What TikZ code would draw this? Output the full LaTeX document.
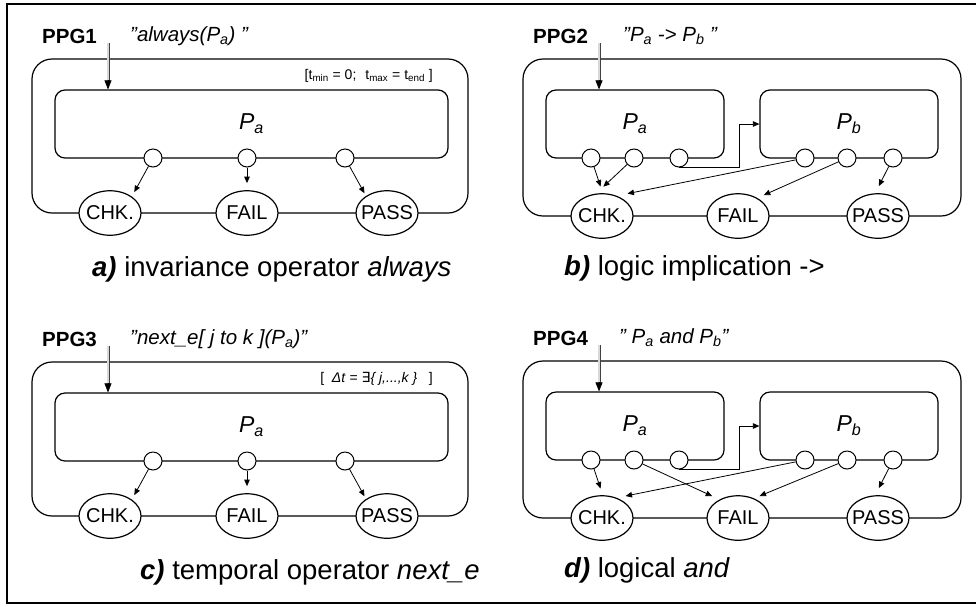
\documentclass[tikz,border=0pt]{standalone}
\usepackage{fontspec}
\setmainfont{Liberation Sans}
\newfontfamily\dejavu{DejaVu Sans}
\usetikzlibrary{arrows.meta,shapes.geometric}
\newcommand\PP[1]{\textit{P}\textsubscript{\textit{#1}}}
\newcommand\stxt[1]{\makebox[0pt]{#1}}
\tikzset{
  outerbox/.style={draw, line width=1.2pt, rounded corners=20pt, inner sep=0},
  innerbox/.style={draw, line width=1.2pt, rounded corners=10pt, inner sep=0, font=\fontsize{23}{27}\selectfont},
  port/.style={draw, circle, line width=1pt, fill=white, minimum size=18pt, inner sep=0},
  state/.style={draw, ellipse, line width=1.2pt, fill=white, minimum width=62pt, minimum height=44.5pt, inner sep=0, font=\fontsize{20}{24}\selectfont},
  arr/.style={-{Triangle[length=6.5pt,width=5.5pt]}, line width=0.8pt},
  shaftout/.style={line width=3pt, black!75},
  shaftin/.style={line width=1.2pt, black!15},
  arrhead/.style={-{Triangle[length=9pt,width=7pt]}, line width=0.6pt},
  ppg/.style={font=\fontsize{20.5}{24}\selectfont\bfseries, inner sep=0, anchor=base west},
  quote/.style={font=\fontsize{20.5}{24}\selectfont\itshape, inner sep=0, anchor=base west},
  small/.style={font=\fontsize{14}{17}\selectfont, inner sep=0, anchor=base east},
  caption/.style={font=\fontsize{27.5}{32}\selectfont, inner sep=0, anchor=base west},
}
% single panel: #1 prefix, #2 y shift, #3 PPG, #4 quote, #5 range label, #6 caption, #7 caption x
\newcommand\singlepanel[7]{%
\begin{scope}[shift={(0,#2)}]
  \node[outerbox, minimum width=436pt, minimum height=154pt] (#1outer) at (250,136) {};
  \node[innerbox, minimum width=393pt, minimum height=68pt] (#1box) at (251.5,124) {\PP{a}};
  \node[port] (#1p1) at (153,158) {};
  \node[port] (#1p2) at (247,158) {};
  \node[port] (#1p3) at (345,158) {};
  \node[state] (#1chk) at (110,213) {\stxt{CHK.}};
  \node[state] (#1fail) at (247,213) {\stxt{FAIL}};
  \node[state] (#1pass) at (387,213) {\stxt{PASS}};
  \draw[arr, shorten >=5pt] (#1p1) -- (#1chk.37);
  \draw[arr, shorten >=7pt] (#1p2) -- (#1fail.north);
  \draw[arr, shorten >=3pt] (#1p3) -- (#1pass.141);
  \node[ppg] (#1ppg) at (42,43) {#3};
  \node[quote] (#1quote) at (130,41) {#4};
  \node[small] (#1range) at (433,79) {#5};
  \coordinate (#1in) at (108,43);
  \coordinate (#1tip) at (#1in |- #1box.north);
  \draw[shaftout, shorten >=8pt] (#1in) -- (#1tip);
  \draw[shaftin, shorten >=8pt] (#1in) -- (#1tip);
  \draw[arrhead] ([yshift=9pt]#1tip) -- (#1tip);
  \node[caption] (#1cap) at (#7,276) {#6};
\end{scope}}
% double panel: #1 prefix, #2 y shift, #3 PPG, #4 quote, #5 quote x, #6 caption, #7 arrows
\newcommand\doublepanel[7]{%
\begin{scope}[shift={(0,#2)}]
  \node[outerbox, minimum width=438pt, minimum height=157pt] (#1outer) at (742,137.5) {};
  \node[innerbox, minimum width=178pt, minimum height=68pt] (#1boxa) at (635,124) {\PP{a}};
  \node[innerbox, minimum width=178pt, minimum height=68pt] (#1boxb) at (849,124) {\PP{b}};
  \node[port] (#1a1) at (591,158) {};
  \node[port] (#1a2) at (634,158) {};
  \node[port] (#1a3) at (679,158) {};
  \node[port] (#1b1) at (805,158) {};
  \node[port] (#1b2) at (847,158) {};
  \node[port] (#1b3) at (893,158) {};
  \node[state] (#1chk) at (602,216) {\stxt{CHK.}};
  \node[state] (#1fail) at (738,216) {\stxt{FAIL}};
  \node[state] (#1pass) at (878,216) {\stxt{PASS}};
  \draw[arr] (#1a3.south) -- ++(60,0) |- (#1boxb.west);
  #7
  \node[ppg] (#1ppg) at (533,43) {#3};
  \node[quote] (#1quote) at (#5,41) {#4};
  \coordinate (#1in) at (599,43);
  \coordinate (#1tip) at (#1in |- #1boxa.north);
  \draw[shaftout, shorten >=8pt] (#1in) -- (#1tip);
  \draw[shaftin, shorten >=8pt] (#1in) -- (#1tip);
  \draw[arrhead] ([yshift=9pt]#1tip) -- (#1tip);
  \node[caption] (#1cap) at (564,275) {#6};
\end{scope}}
\begin{document}
\begin{tikzpicture}[x=1pt, y=-1pt]
\useasboundingbox (0,0) rectangle (976,606);
\coordinate (fr1) at (976,4);
\coordinate (fr2) at (7,4);
\coordinate (fr3) at (7,603);
\coordinate (fr4) at (976,603);
\draw[line width=1.6pt] (fr1) -- (fr2) -- (fr3) -- (fr4);
\singlepanel{a}{0}{PPG1}{"always(\PP{a}) "}{[t\textsubscript{min} = 0;\hspace{9pt}t\textsubscript{max} = t\textsubscript{end} ]}{\textbf{\textit{a)}} invariance operator \textit{always}}{92}
\singlepanel{c}{303}{PPG3}{"next\_e[ j to k ](\PP{a})"}{[\ \ \textit{Δt} = {\dejavu\itshape ∃}\textit{\{ j,...,k \}}\ \ \ ]}{\textbf{\textit{c)}} temporal operator \textit{next\_e}}{140}
\doublepanel{b}{0}{PPG2}{"\PP{a} -> \PP{b} "}{623}{\textbf{\textit{b)}} logic implication ->}{%
  \draw[arr, shorten >=7pt] (ba1) -- (bchk.88);
  \draw[arr, shorten >=10pt] (ba2) -- (bchk.105);
  \draw[arr, shorten >=11pt] (bb1) -- (bchk.54);
  \draw[arr, shorten >=7pt] (bb2) -- (bfail.43);
  \draw[arr, shorten >=8pt] (bb3) -- (bpass.97);}
\doublepanel{d}{302}{PPG4}{" \PP{a} and \PP{b}"}{619}{\textbf{\textit{d)}} logical \textit{and}}{%
  \draw[arr, shorten >=7pt] (da1) -- (dchk.88);
  \draw[arr, shorten >=8pt] (da2) -- (dfail.135);
  \draw[arr, shorten >=9pt] (db1) -- (dchk.54);
  \draw[arr, shorten >=6pt] (db2) -- (dfail.51);
  \draw[arr, shorten >=8pt] (db3) -- (dpass.97);}
\end{tikzpicture}
\end{document}
